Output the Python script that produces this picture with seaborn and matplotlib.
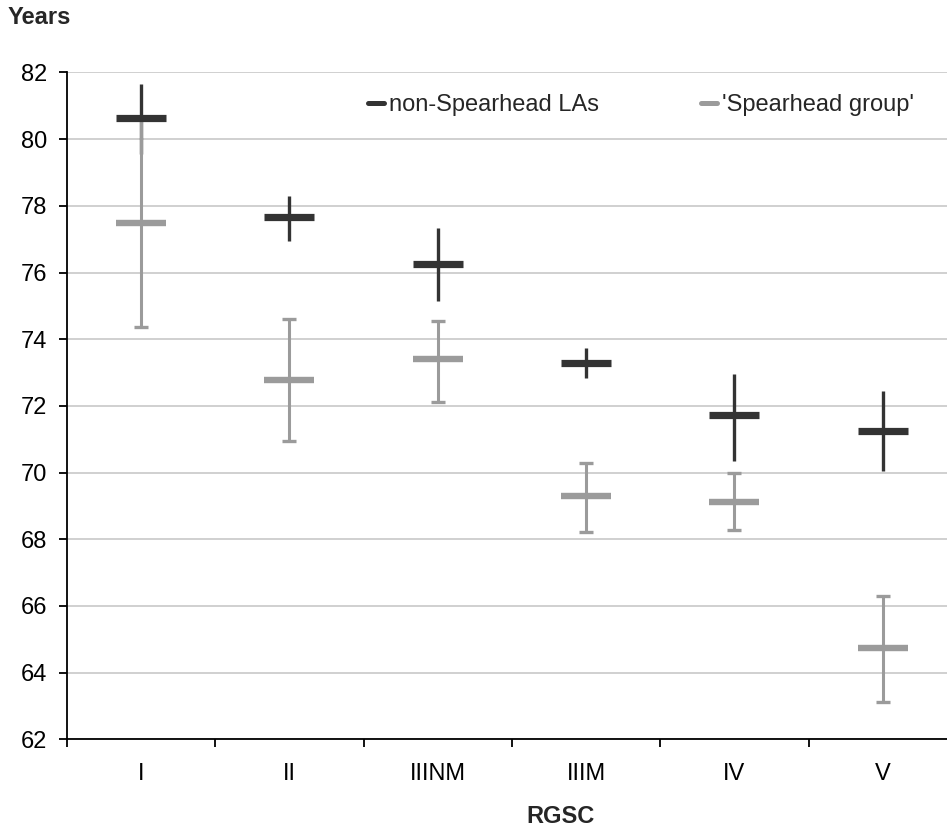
import matplotlib
matplotlib.use("Agg")
import matplotlib.pyplot as plt
from matplotlib.lines import Line2D
import numpy as np
import seaborn as sns

sns.set_theme(style="white")
plt.rcParams['font.family'] = ['Liberation Sans', 'DejaVu Sans']

# dados
CATEGORIAS = ["I", "II", "IIINM", "IIIM", "IV", "V"]
SERIES = ["non-Spearhead LAs", "'Spearhead group'"]

NAO_SPEAR_MEDIA = [80.62, 77.65, 76.25, 73.29, 71.72, 71.26]
NAO_SPEAR_INF = [79.55, 76.95, 75.15, 72.83, 70.34, 70.06]
NAO_SPEAR_SUP = [81.64, 78.28, 77.32, 73.74, 72.95, 72.45]

SPEAR_MEDIA = [77.48, 72.78, 73.40, 69.31, 69.13, 64.73]
SPEAR_INF = [74.37, 70.96, 72.13, 68.23, 68.27, 63.13]
SPEAR_SUP = [80.59, 74.60, 74.54, 70.28, 70.00, 66.29]

Y_TICKS = list(range(62, 83, 2))

COR_ESCURA = "#333333"
COR_CLARA = "#9b9b9b"
FONTE = 17

fig = plt.figure(figsize=(9.47, 8.3), dpi=100)
ax = fig.add_axes([0.0707, 0.1093, 0.9398, 0.8034])

pos = np.arange(len(CATEGORIAS))

# barras de erro (escura sem tampa, clara com tampa)
med = np.array(NAO_SPEAR_MEDIA)
ax.errorbar(pos, med, yerr=[med - np.array(NAO_SPEAR_INF), np.array(NAO_SPEAR_SUP) - med],
            fmt="none", ecolor=COR_ESCURA, elinewidth=2.4, capsize=0, zorder=2)
med2 = np.array(SPEAR_MEDIA)
ax.errorbar(pos, med2, yerr=[med2 - np.array(SPEAR_INF), np.array(SPEAR_SUP) - med2],
            fmt="none", ecolor=COR_CLARA, elinewidth=2.2, capsize=4.7, capthick=2.4, zorder=2.5)

# medias como tracos horizontais
sns.pointplot(x=CATEGORIAS, y=NAO_SPEAR_MEDIA, order=CATEGORIAS, color=COR_ESCURA,
              markers="_", linestyle="none", errorbar=None, markersize=36,
              markeredgewidth=5.2, zorder=3, ax=ax)
sns.pointplot(x=CATEGORIAS, y=SPEAR_MEDIA, order=CATEGORIAS, color=COR_CLARA,
              markers="_", linestyle="none", errorbar=None, markersize=36,
              markeredgewidth=4.6, zorder=4, ax=ax)

ax.set_xlim(-0.5, 5.5)
ax.set_ylim(62, 82)
ax.set_yticks(Y_TICKS)
ax.set_xticks(pos)
ax.set_xticklabels(CATEGORIAS)
ax.set_xticks(np.arange(-0.5, 6, 1), minor=True)
ax.set_xlabel("")
ax.set_ylabel("")

ax.yaxis.grid(True, color="#c4c4c4", linewidth=1.1)
ax.xaxis.grid(False)
ax.set_axisbelow(True)

for lado in ["top", "right"]:
    ax.spines[lado].set_visible(False)
for lado in ["left", "bottom"]:
    ax.spines[lado].set_color("black")
    ax.spines[lado].set_linewidth(1.3)

ax.tick_params(axis="y", which="major", left=True, length=6, width=1.3, color="black",
               direction="out", pad=8, labelsize=FONTE, labelcolor="black")
ax.tick_params(axis="x", which="major", bottom=True, length=0, pad=17, labelsize=FONTE,
               labelcolor="black")
ax.tick_params(axis="x", which="minor", bottom=True, length=6, width=1.3, color="black",
               direction="out")

handles = [Line2D([], [], color=COR_ESCURA, lw=3.6),
           Line2D([], [], color=COR_CLARA, lw=3.6)]
fig.legend(handles, SERIES, loc="center left", bbox_to_anchor=(0.3887, 0.8735),
           ncol=2, frameon=False, fontsize=FONTE, handlelength=0.68, handletextpad=0.22,
           columnspacing=4.3, borderpad=0, borderaxespad=0)

fig.text(8 / 947, 1 - 6 / 830, "Years", fontsize=FONTE, fontweight="bold", ha="left", va="top")
fig.text(560 / 947, 0.002, "RGSC", fontsize=FONTE, fontweight="bold", ha="center",
         va="bottom")

fig.savefig("out.png", dpi=100)
